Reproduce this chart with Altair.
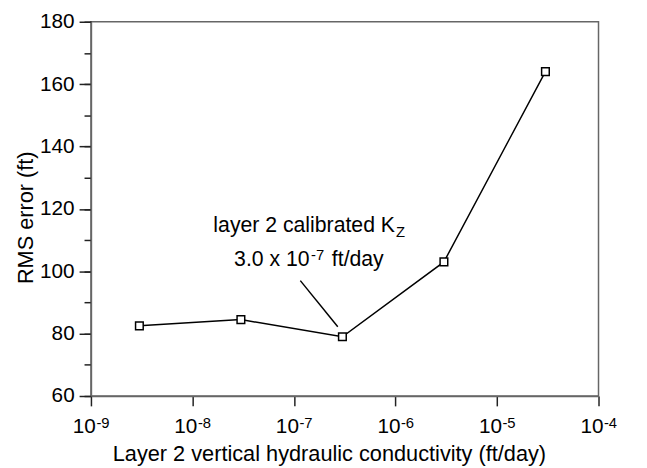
import altair as alt
import pandas as pd

# data
conductivity = [3e-9, 3e-8, 3e-7, 3e-6, 3e-5]
rms_error = [82.5, 84.5, 79.0, 103.0, 164.0]

x_ticks = [1e-9, 1e-8, 1e-7, 1e-6, 1e-5, 1e-4]
x_tick_base = ["10", "10", "10", "10", "10", "10"]
x_tick_exp = ["-9", "-8", "-7", "-6", "-5", "-4"]
y_major = [60, 80, 100, 120, 140, 160, 180]
y_minor = [60, 70, 80, 90, 100, 110, 120, 130, 140, 150, 160, 170, 180]

x_title = "Layer 2 vertical hydraulic conductivity (ft/day)"
y_title = "RMS error (ft)"

# annotation text pieces (anchor in data coordinates)
ann1_main = ["layer 2 calibrated K"]
ann1_sub = ["Z"]
ann1_x = [1.607e-8]
ann1_y = [112.6]
ann2_a = ["3.0 x 10"]
ann2_sup = ["-7"]
ann2_b = ["ft/day"]
ann2_x = [2.57e-8]
ann2_y = [101.8]
leader_x = [1.155e-7]
leader_y = [97.0]
leader_x2 = [2.70e-7]
leader_y2 = [82.2]

FONT = "Liberation Sans"
FS = 21
FS_T = 22
FS_A = 21.5
FS_S = 15

df = pd.DataFrame({"k": conductivity, "rms": rms_error})
ticks_df = pd.DataFrame({"v": x_ticks, "b": x_tick_base, "e": x_tick_exp})
a1 = pd.DataFrame({"x": ann1_x, "y": ann1_y, "t": ann1_main, "s": ann1_sub})
a2 = pd.DataFrame({"x": ann2_x, "y": ann2_y, "a": ann2_a, "p": ann2_sup, "b": ann2_b})
lead = pd.DataFrame({"x": leader_x, "y": leader_y, "x2": leader_x2, "y2": leader_y2})

xscale = alt.Scale(type="log", domain=[1e-9, 1e-4], nice=False)
yscale = alt.Scale(domain=[60, 180], nice=False)

x_axis = alt.Axis(values=x_ticks, labels=False, grid=False, tickSize=10,
                  title=x_title, titleFontSize=FS_T, titleFont=FONT,
                  titleFontWeight="normal", titleColor="black",
                  titleX=241, titleY=65, titleAlign="center", titleBaseline="alphabetic",
                  domainColor="#666", domainWidth=1.5, tickColor="#222", tickWidth=1.5)
main_y_axis = alt.Axis(values=y_major, grid=False, tickSize=12, orient="left",
                       labelFontSize=FS, labelFont=FONT, labelColor="black",
                       labelPadding=5,
                       title=y_title, titleFontSize=FS_T, titleFont=FONT,
                       titleFontWeight="normal", titleColor="black",
                       titleX=-59, titleY=198, titleAngle=270, titleAlign="center",
                       titleBaseline="alphabetic",
                       domainColor="#666", domainWidth=1.5,
                       tickColor="#222", tickWidth=1.5)
minor_y_axis = alt.Axis(values=y_minor, grid=False, tickSize=7, orient="left",
                        labels=False, title=None, domain=False,
                        tickColor="#222", tickWidth=1.5)


def X(field):
    return alt.X(field, type="quantitative", scale=xscale, axis=x_axis)


minor = alt.Chart(df).mark_point(opacity=0).encode(
    x=X("k"),
    y=alt.Y("rms:Q", scale=yscale, axis=minor_y_axis),
)

line = alt.Chart(df).mark_line(color="black", strokeWidth=1.5).encode(
    x=X("k"),
    y=alt.Y("rms:Q", scale=yscale, axis=main_y_axis),
)

pts = alt.Chart(df).mark_point(shape="square", size=60, filled=True, fill="white",
                               stroke="black", strokeWidth=1.5, opacity=1).encode(
    x=X("k"),
    y=alt.Y("rms:Q", scale=yscale, axis=None),
)

leader = alt.Chart(lead).mark_rule(color="black", strokeWidth=1.5).encode(
    x=X("x"),
    y=alt.Y("y:Q", scale=yscale, axis=None),
    x2="x2:Q", y2="y2:Q",
)

tick_base = alt.Chart(ticks_df).mark_text(font=FONT, fontSize=FS, align="right",
                                          baseline="alphabetic", color="black", dx=5).encode(
    x=X("v"), y=alt.value(416), text="b:N")
tick_exp = alt.Chart(ticks_df).mark_text(font=FONT, fontSize=FS_S, align="left",
                                         baseline="alphabetic", color="black", dx=5.5).encode(
    x=X("v"), y=alt.value(411), text="e:N")

t1 = alt.Chart(a1).mark_text(font=FONT, fontSize=FS_A, align="left",
                             baseline="alphabetic", color="black").encode(
    x=X("x"), y=alt.Y("y:Q", scale=yscale, axis=None), text="t:N")
t1s = alt.Chart(a1).mark_text(font=FONT, fontSize=FS_S, align="left",
                              baseline="alphabetic", color="black", dx=185, dy=5).encode(
    x=X("x"), y=alt.Y("y:Q", scale=yscale, axis=None), text="s:N")
t2a = alt.Chart(a2).mark_text(font=FONT, fontSize=FS_A, align="left",
                              baseline="alphabetic", color="black").encode(
    x=X("x"), y=alt.Y("y:Q", scale=yscale, axis=None), text="a:N")
t2p = alt.Chart(a2).mark_text(font=FONT, fontSize=FS_S, align="left",
                              baseline="alphabetic", color="black", dx=78, dy=-6).encode(
    x=X("x"), y=alt.Y("y:Q", scale=yscale, axis=None), text="p:N")
t2b = alt.Chart(a2).mark_text(font=FONT, fontSize=FS_A, align="left",
                              baseline="alphabetic", color="black", dx=99).encode(
    x=X("x"), y=alt.Y("y:Q", scale=yscale, axis=None), text="b:N")

chart = alt.layer(minor, line, leader, pts, tick_base, tick_exp,
                  t1, t1s, t2a, t2p, t2b).resolve_axis(
    y="independent"
).properties(
    width=514, height=379,
    autosize=alt.AutoSizeParams(type="none"),
    padding={"left": 84, "top": 11, "right": 41, "bottom": 70},
).configure_view(stroke="#666", strokeWidth=1.5)

chart.save("out.html", embed_options={"renderer": "svg", "actions": False})
